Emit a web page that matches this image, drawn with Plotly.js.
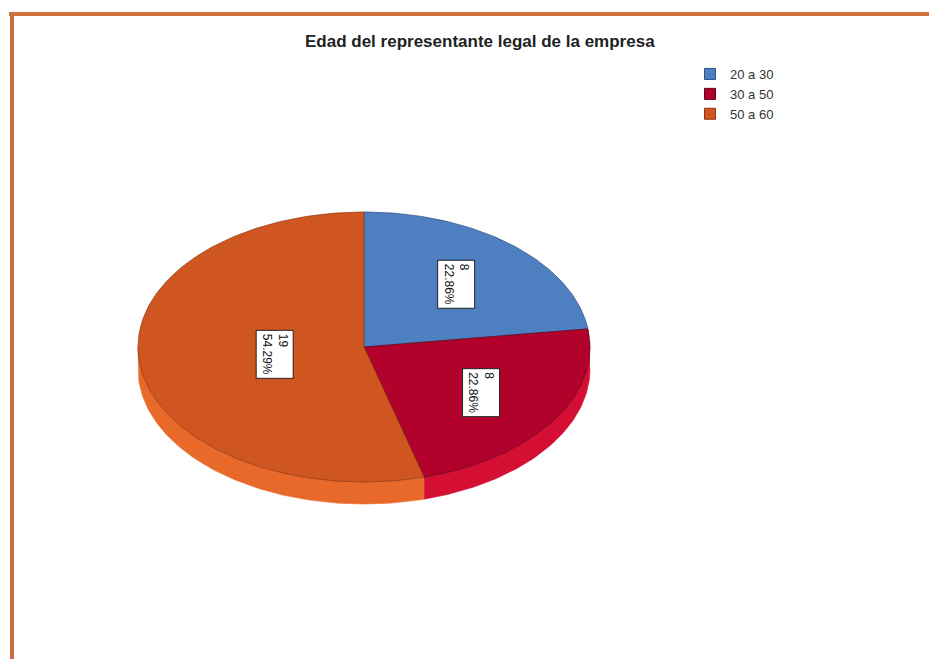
<!DOCTYPE html>
<html>
<head>
<meta charset="utf-8">
<script src="https://cdn.plot.ly/plotly-3.0.1.min.js"></script>
<style>html,body{margin:0;padding:0;background:#fff;}#chart{width:929px;height:659px;}</style>
</head>
<body>
<div id="chart"></div>
<script>
// ---- data ----
const categories = ['20 a 30', '30 a 50', '50 a 60'];
const counts = [8, 8, 19];
const chartTitle = 'Edad del representante legal de la empresa';

// ---- style ----
const topColors = ['#4d7fc1', '#b2022c', '#cf5620'];
const sideColors = ['#3f6fb0', '#d40f33', '#e8692a'];
const edgeColors = ['#2d4f85', '#5c0016', '#8a3512'];
const labelRadius = [0.62, 0.62, 0.40];

// geometry of the tilted pie (pixel space)
const cx = 364, cy = 347, rx = 226, ry = 135, depth = 22;
const total = counts.reduce((a, b) => a + b, 0);

function pt(theta, dy) {
  const t = theta * Math.PI / 180;
  return [cx + rx * Math.cos(t), cy - ry * Math.sin(t) + (dy || 0)];
}
function arc(a0, a1, dy) {
  const xs = [], ys = [];
  const n = Math.max(2, Math.ceil(Math.abs(a1 - a0)));
  for (let i = 0; i <= n; i++) {
    const p = pt(a0 + (a1 - a0) * i / n, dy);
    xs.push(p[0]); ys.push(p[1]);
  }
  return [xs, ys];
}

const traces = [];
const tops = [];
const annotations = [];
let start = 90;
counts.forEach((v, i) => {
  const sweep = 360 * v / total;
  const a0 = start, a1 = start - sweep;
  // side wall: visible part of the arc in the lower half (theta in [-180, 0])
  let s0 = Math.min(a0, 0), s1 = Math.max(a1, -180);
  if (s0 > s1) {
    const up = arc(s0, s1, 0), dn = arc(s1, s0, depth);
    traces.push({
      type: 'scatter', mode: 'lines', fill: 'toself',
      x: up[0].concat(dn[0]), y: up[1].concat(dn[1]),
      fillcolor: sideColors[i], line: {color: sideColors[i], width: 0.6},
      hoverinfo: 'skip', showlegend: false
    });
  }
  // top face
  const ar = arc(a0, a1, 0);
  tops.push({
    type: 'scatter', mode: 'lines', fill: 'toself',
    x: [cx].concat(ar[0], [cx]), y: [cy].concat(ar[1], [cy]),
    fillcolor: topColors[i], line: {color: edgeColors[i], width: 0.7},
    hoverinfo: 'skip', showlegend: false
  });
  // label
  const mid = (a0 + a1) / 2;
  const t = mid * Math.PI / 180;
  const pct = (100 * v / total).toFixed(2) + '%';
  annotations.push({
    x: cx + labelRadius[i] * rx * Math.cos(t),
    y: cy - labelRadius[i] * ry * Math.sin(t),
    xref: 'x', yref: 'y', showarrow: false,
    text: v + '<br>' + pct, textangle: 90, align: 'left',
    font: {family: 'Liberation Sans, Arial, sans-serif', size: 12, color: '#111'},
    bgcolor: '#ffffff', bordercolor: '#222', borderwidth: 1, borderpad: 3
  });
  start = a1;
});

// legend entries
categories.forEach((c, i) => {
  traces.push({
    type: 'scatter', mode: 'markers', x: [null], y: [null], name: c,
    marker: {symbol: 'square', size: 11, color: topColors[i], line: {color: edgeColors[i], width: 1}},
    showlegend: true, hoverinfo: 'skip'
  });
});

annotations.push({
  x: 480, y: 41, xref: 'x', yref: 'y', showarrow: false,
  xanchor: 'center', yanchor: 'middle',
  text: '<b>' + chartTitle + '</b>',
  font: {family: 'Liberation Sans, Arial, sans-serif', size: 17, color: '#222'}
});

const layout = {
  width: 929, height: 659, autosize: false,
  margin: {l: 0, r: 0, t: 0, b: 0},
  paper_bgcolor: '#ffffff', plot_bgcolor: '#ffffff',
  xaxis: {range: [0, 929], visible: false, fixedrange: true},
  yaxis: {range: [659, 0], visible: false, fixedrange: true},
  showlegend: true,
  legend: {
    x: 690 / 929, y: 1 - 59 / 659, xanchor: 'left', yanchor: 'top',
    font: {family: 'Liberation Sans, Arial, sans-serif', size: 13, color: '#333'},
    bgcolor: 'rgba(0,0,0,0)', tracegroupgap: 0
  },
  annotations: annotations,
  shapes: [
    {type: 'line', xref: 'paper', yref: 'paper', x0: 9 / 929, x1: 1, y0: 1 - 14 / 659, y1: 1 - 14 / 659,
     line: {color: '#d2733c', width: 4}},
    {type: 'line', xref: 'paper', yref: 'paper', x0: 12 / 929, x1: 12 / 929, y0: 0, y1: 1 - 12 / 659,
     line: {color: '#c8703e', width: 4}}
  ]
};

Plotly.newPlot('chart', traces.concat(tops), layout, {displayModeBar: false, staticPlot: true});
</script>
</body>
</html>
